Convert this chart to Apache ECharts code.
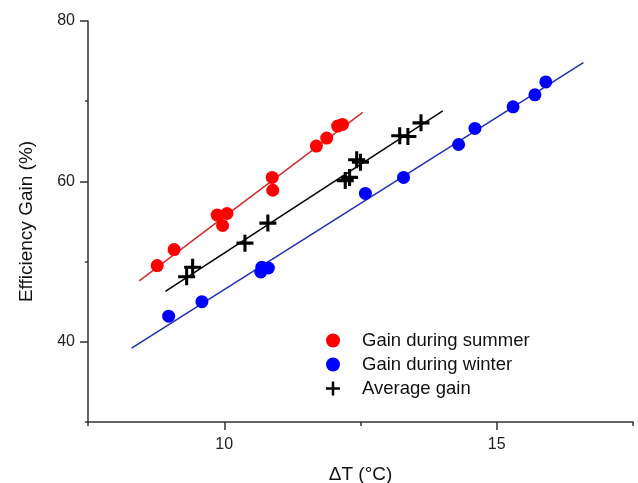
<!DOCTYPE html>
<html>
<head>
<meta charset="utf-8">
<script src="https://cdn.jsdelivr.net/npm/echarts@6/dist/echarts.min.js"></script>
<style>
  html, body { margin: 0; padding: 0; background: #fff; }
  #chart { width: 638px; height: 483px; }
</style>
</head>
<body>
<div id="chart"></div>
<script>
// measured points
var summerX = [8.77, 9.08, 9.87, 9.97, 10.05, 10.89, 10.88, 11.69, 11.88, 12.08, 12.17];
var summerY = [49.5, 51.5, 55.8, 54.5, 56.0, 58.9, 60.5, 64.4, 65.4, 66.9, 67.1];
var winterX = [8.98, 9.59, 10.67, 10.69, 10.81, 12.59, 13.29, 14.3, 14.6, 15.3, 15.7, 15.9];
var winterY = [43.2, 45.0, 48.7, 49.3, 49.2, 58.5, 60.5, 64.6, 66.6, 69.3, 70.8, 72.4];
var avgX = [9.31, 9.42, 10.38, 10.8, 12.22, 12.3, 12.43, 12.5, 13.22, 13.37, 13.61];
var avgY = [48.1, 49.3, 52.3, 54.8, 60.1, 60.5, 62.7, 62.4, 65.7, 65.6, 67.3];

// linear fit end points
var summerFitX = [8.44, 12.54], summerFitY = [47.6, 68.6];
var avgFitX = [8.92, 14.01], avgFitY = [46.3, 68.8];
var winterFitX = [8.3, 16.59], winterFitY = [39.2, 74.8];

// axis ticks
var xMajor = [10, 15], xMinor = [7.5, 12.5, 17.5];
var yMajor = [40, 60, 80], yMinor = [30, 50, 70];

function pairs(xs, ys) {
  return xs.map(function (x, i) { return [x, ys[i]]; });
}

var plus = 'path://M4.1,0h1.8v4.1h4.1v1.8h-4.1v4.1h-1.8v-4.1h-4.1v-1.8h4.1z';
var font = 'Liberation Sans, Arial, sans-serif';
var axisColor = '#333';

var chart = echarts.init(document.getElementById('chart'));
chart.setOption({
  animation: false,
  textStyle: { fontFamily: font },
  grid: { left: 88, right: 5, top: 21, bottom: 61, containLabel: false, outerBoundsMode: 'none' },
  legend: {
    data: ['Gain during summer', 'Gain during winter', 'Average gain'],
    orient: 'vertical',
    left: 321,
    top: 326,
    itemWidth: 14,
    itemHeight: 14,
    itemGap: 5,
    textStyle: { fontSize: 18.5, lineHeight: 18, color: '#111', fontFamily: font, padding: [0, 0, 0, 17] }
  },
  xAxis: [{
    type: 'value', min: 7.5, max: 17.5,
    name: 'ΔT (°C)', nameLocation: 'middle', nameGap: 43,
    nameTextStyle: { fontSize: 19, color: '#111' },
    splitLine: { show: false },
    axisLine: { lineStyle: { color: axisColor, width: 1.5 } },
    axisTick: { customValues: xMajor, length: 8, lineStyle: { color: axisColor, width: 1.5 } },
    axisLabel: { customValues: xMajor, margin: 15, fontSize: 16, color: '#222' }
  }, {
    type: 'value', min: 7.5, max: 17.5, position: 'bottom',
    splitLine: { show: false },
    axisLine: { show: false },
    axisTick: { customValues: xMinor, length: 4, lineStyle: { color: axisColor, width: 1.5 } },
    axisLabel: { show: false }
  }],
  yAxis: [{
    type: 'value', min: 30, max: 80,
    name: 'Efficiency Gain (%)', nameLocation: 'middle', nameGap: 52,
    nameTextStyle: { fontSize: 19, color: '#111' },
    splitLine: { show: false },
    axisLine: { show: true, lineStyle: { color: axisColor, width: 1.5 } },
    axisTick: { show: true, customValues: yMajor, length: 8, lineStyle: { color: axisColor, width: 1.5 } },
    axisLabel: { customValues: yMajor, margin: 13, fontSize: 16, color: '#222' }
  }, {
    type: 'value', min: 30, max: 80, position: 'left',
    splitLine: { show: false },
    axisLine: { show: false },
    axisTick: { show: true, customValues: yMinor, length: 3, lineStyle: { color: axisColor, width: 1.5 } },
    axisLabel: { show: false }
  }],
  series: [
    {
      name: 'summer fit', type: 'line', data: pairs(summerFitX, summerFitY),
      showSymbol: false, lineStyle: { color: '#d42a2a', width: 1.5 }, z: 1
    },
    {
      name: 'average fit', type: 'line', data: pairs(avgFitX, avgFitY),
      showSymbol: false, lineStyle: { color: '#000', width: 1.5 }, z: 1
    },
    {
      name: 'winter fit', type: 'line', data: pairs(winterFitX, winterFitY),
      showSymbol: false, lineStyle: { color: '#1f2fb0', width: 1.5 }, z: 1
    },
    {
      name: 'Gain during summer', type: 'scatter', data: pairs(summerX, summerY),
      symbol: 'circle', symbolSize: 13, itemStyle: { color: '#ff0000', opacity: 1 }, z: 3
    },
    {
      name: 'Gain during winter', type: 'scatter', data: pairs(winterX, winterY),
      symbol: 'circle', symbolSize: 13, itemStyle: { color: '#0000ff', opacity: 1 }, z: 3
    },
    {
      name: 'Average gain', type: 'scatter', data: pairs(avgX, avgY),
      symbol: plus, symbolSize: 17, itemStyle: { color: '#000', opacity: 1 }, z: 4
    }
  ]
});
</script>
</body>
</html>
